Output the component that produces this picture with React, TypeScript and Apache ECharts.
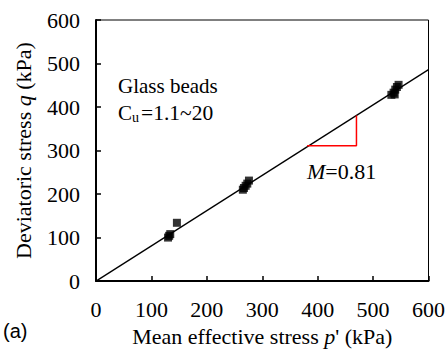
import React, { useEffect, useRef } from "react";
import * as echarts from "echarts";

const glassBeads: number[][] = [
  [130, 100], [132, 104], [134, 108], [146, 134],
  [265, 210], [267, 214], [270, 219], [273, 224], [276, 231],
  [533, 428], [537, 433], [539, 429], [540, 440], [543, 446], [546, 451],
];
const M = 0.81;
const fitLine: number[][] = [[0, 0], [600, 600 * M]];
const slopeTriangle: number[][] = [[381, 311], [470, 311], [470, 470 * M]];
const xTicks = [0, 100, 200, 300, 400, 500, 600];
const yTicks = [0, 100, 200, 300, 400, 500, 600];

const SERIF = "'Liberation Serif', 'Times New Roman', serif";

export default function App() {
  const ref = useRef<HTMLDivElement>(null);
  useEffect(() => {
    if (!ref.current) return;
    const chart = echarts.init(ref.current, undefined, { renderer: "svg" });
    chart.setOption({
      animation: false,
      backgroundColor: "#ffffff",
      grid: { left: 96, right: 18, top: 20, bottom: 64, show: true, borderColor: "#000", borderWidth: 1 },
      xAxis: {
        type: "value",
        min: xTicks[0],
        max: xTicks[xTicks.length - 1],
        interval: 100,
        name: "{a|Mean effective stress }{i|p}{a|' (kPa)}",
        nameLocation: "middle",
        nameGap: 42,
        nameTextStyle: {
          rich: {
            a: { fontFamily: SERIF, fontSize: 22, color: "#000" },
            i: { fontFamily: SERIF, fontSize: 22, fontStyle: "italic", color: "#000" },
          },
        },
        axisLine: { lineStyle: { color: "#000", width: 2 } },
        axisTick: { inside: true, length: 5, lineStyle: { color: "#000", width: 1.5 } },
        axisLabel: { fontFamily: SERIF, fontSize: 22, color: "#000", margin: 17 },
        splitLine: { show: false },
      },
      yAxis: {
        type: "value",
        min: yTicks[0],
        max: yTicks[yTicks.length - 1],
        interval: 100,
        name: "{a|Deviatoric stress }{i|q}{a| (kPa)}",
        nameLocation: "middle",
        nameGap: 62,
        nameTextStyle: {
          rich: {
            a: { fontFamily: SERIF, fontSize: 22, color: "#000" },
            i: { fontFamily: SERIF, fontSize: 22, fontStyle: "italic", color: "#000" },
          },
        },
        axisLine: { lineStyle: { color: "#000", width: 2 } },
        axisTick: { inside: true, length: 5, lineStyle: { color: "#000", width: 1.5 } },
        axisLabel: { fontFamily: SERIF, fontSize: 22, color: "#000", margin: 16 },
        splitLine: { show: false },
      },
      series: [
        {
          type: "line",
          data: fitLine,
          symbol: "none",
          lineStyle: { color: "#000", width: 1.3 },
          z: 2,
        },
        {
          type: "line",
          data: slopeTriangle,
          symbol: "none",
          lineStyle: { color: "#ff0000", width: 1.5 },
          z: 2,
        },
        {
          type: "scatter",
          data: glassBeads,
          symbol: "rect",
          symbolSize: 8,
          itemStyle: { color: "#000" },
          z: 3,
        },
      ],
      graphic: [
        { type: "text", left: 118, top: 75, style: { text: "Glass beads", fontFamily: SERIF, fontSize: 21, fill: "#000" } },
        { type: "text", left: 118, top: 102, style: { text: "C", fontFamily: SERIF, fontSize: 21, fill: "#000" } },
        { type: "text", left: 132, top: 110, style: { text: "u", fontFamily: SERIF, fontSize: 14, fill: "#000" } },
        { type: "text", left: 141, top: 102, style: { text: "=1.1~20", fontFamily: SERIF, fontSize: 21.5, fill: "#000" } },
        {
          type: "text",
          left: 307,
          top: 160,
          style: {
            text: "{i|M}{a|=0.81}",
            rich: {
              i: { fontFamily: SERIF, fontSize: 22, fontStyle: "italic", fill: "#000" },
              a: { fontFamily: SERIF, fontSize: 22, fill: "#000" },
            },
          },
        },
        { type: "text", left: 3, top: 321, style: { text: "(a)", fontFamily: "'Liberation Sans', Arial, sans-serif", fontSize: 20, fill: "#000" } },
      ],
    });
    return () => chart.dispose();
  }, []);
  return <div ref={ref} style={{ width: 448, height: 352, position: "absolute", left: 0, top: 0 }} />;
}
